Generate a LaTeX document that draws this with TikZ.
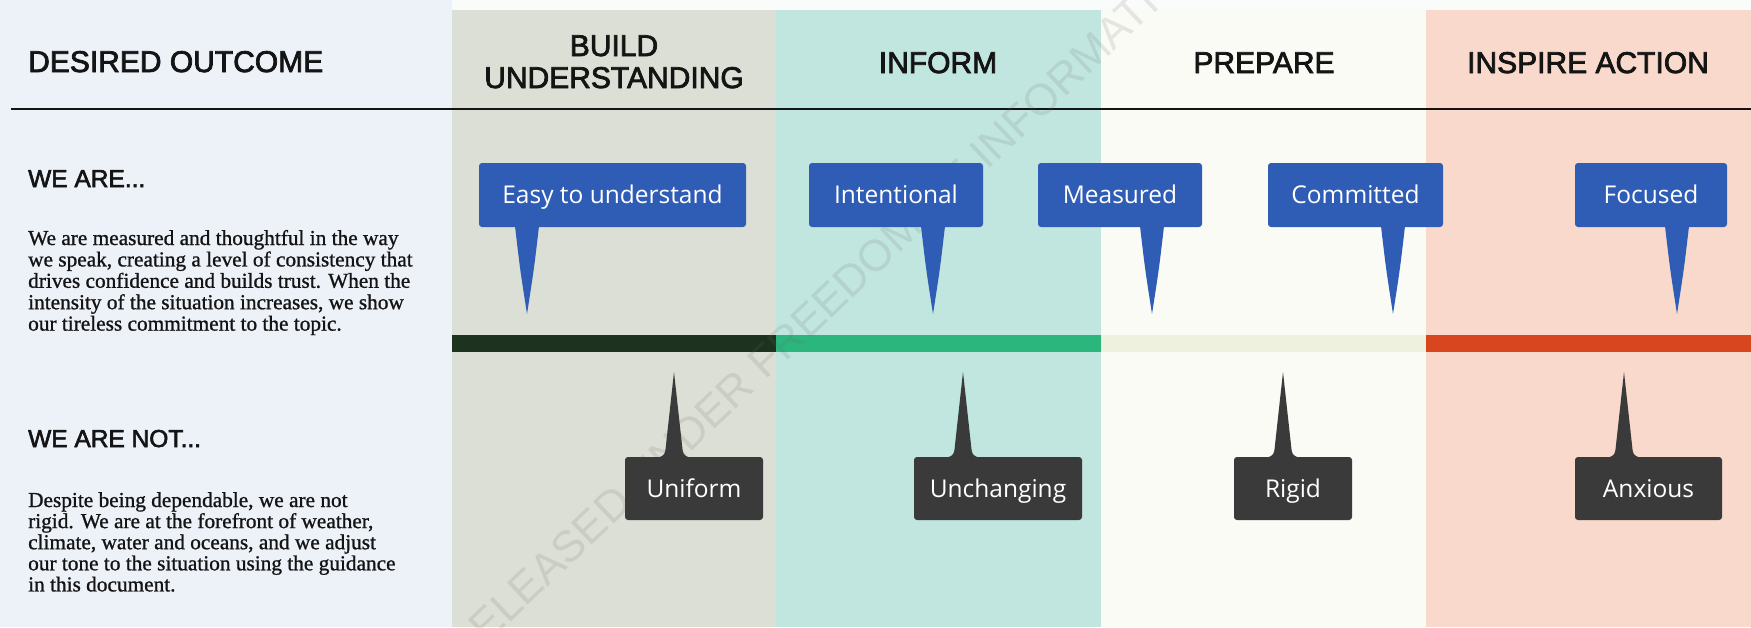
\documentclass[tikz,border=0pt]{standalone}
\usepackage{fontspec}
\setmainfont{Liberation Serif}[FakeBold=1]
\newfontfamily\headfont{Liberation Sans}[FakeBold=2.5]
\newfontfamily\stampfont{Liberation Sans}
\newfontfamily\labelfont{Open Sans}
\usetikzlibrary{calc}

\definecolor{leftbg}{HTML}{EDF1F8}
\definecolor{topbg}{HTML}{FAFBFB}
\definecolor{buildbg}{HTML}{DCDFD5}
\definecolor{informbg}{HTML}{C1E5DF}
\definecolor{preparebg}{HTML}{FAFBF5}
\definecolor{inspirebg}{HTML}{FAD9CD}
\definecolor{barbuild}{HTML}{1E331F}
\definecolor{barinform}{HTML}{2BB67E}
\definecolor{barprepare}{HTML}{EEF1DD}
\definecolor{barinspire}{HTML}{D8461F}
\definecolor{callblue}{HTML}{2F5DB6}
\definecolor{calldark}{HTML}{3A3A3A}
\definecolor{inktext}{HTML}{141414}

% blue "we are" callout: name, centre x, width, tip x, label
\newcommand\wearecallout[5]{%
  \node[bluebox, minimum width=#3pt] (#1) at (#2,195) {#5};
  \coordinate (#1-tip) at (#4,314);
  \fill[callblue] ($(#1.south -| #1-tip)+(-12,-1)$)
    .. controls ($(#1-tip)+(-7,-45)$) .. (#1-tip)
    .. controls ($(#1-tip)+(7,-45)$) .. ($(#1.south -| #1-tip)+(12,-1)$) -- cycle;
}
% dark "we are not" callout: name, centre x, width, tip x, label
\newcommand\wearenotcallout[5]{%
  \node[darkbox, minimum width=#3pt] (#1) at (#2,488.5) {#5};
  \coordinate (#1-tip) at (#4,372);
  \fill[calldark] ($(#1.north -| #1-tip)+(-16,1)$)
    .. controls ($(#1.north -| #1-tip)+(-9,-2)$) .. ($(#1.north -| #1-tip)+(-8,-12)$)
    -- (#1-tip)
    -- ($(#1.north -| #1-tip)+(8,-12)$)
    .. controls ($(#1.north -| #1-tip)+(9,-2)$) .. ($(#1.north -| #1-tip)+(16,1)$) -- cycle;
}

\begin{document}
\begin{tikzpicture}[x=1pt,y=-1pt,
  headtxt/.style={font=\headfont\fontsize{30}{32}\selectfont, text=inktext, inner sep=0pt},
  rowtxt/.style={font=\headfont\fontsize{24.5}{27}\selectfont, text=inktext, inner sep=0pt, anchor=base west},
  bodytxt/.style={font=\fontsize{21.3}{21.5}\selectfont, text=inktext, inner sep=0pt, anchor=base west},
  calloutbase/.style={rounded corners=3pt, inner sep=0pt, minimum height=64pt,
    font=\labelfont\fontsize{24.5}{25}\selectfont, text=white, text height=17.5pt, text depth=0pt},
  bluebox/.style={calloutbase, fill=callblue},
  darkbox/.style={calloutbase, fill=calldark, minimum height=63pt},
  wmark/.style={font=\stampfont\fontsize{44}{44}\selectfont, text=black!60, text opacity=0.14, inner sep=0pt},
]
\useasboundingbox (0,0) rectangle (1751,627);

% column backgrounds
\fill[leftbg] (0,0) rectangle (452,627);
\fill[topbg] (452,0) rectangle (1751,10);
\fill[buildbg] (452,10) rectangle (776,627);
\fill[informbg] (776,10) rectangle (1101,627);
\fill[preparebg] (1101,10) rectangle (1426,627);
\fill[inspirebg] (1426,10) rectangle (1751,627);

% column headings
\node[headtxt, anchor=base west] (hdesired) at (28,72) {DESIRED OUTCOME};
\node[headtxt, anchor=base] (hbuildA) at (614,56) {BUILD};
\node[headtxt, anchor=base] (hbuildB) at (614,88) {UNDERSTANDING};
\node[headtxt, anchor=base] (hinform) at (938,73) {INFORM};
\node[headtxt, anchor=base] (hprepare) at (1264,73) {PREPARE};
\node[headtxt, anchor=base] (hinspire) at (1588,73) {INSPIRE ACTION};

% heading rule
\draw[line width=2.5pt, inktext] (11,109) -- (1751,109);

% tone scale bars
\fill[barbuild] (452,335) rectangle (776,352);
\fill[barinform] (776,335) rectangle (1101,352);
\fill[barprepare] (1101,335) rectangle (1426,352);
\fill[barinspire] (1426,335) rectangle (1751,352);

% row titles and descriptions
\node[rowtxt] (weare) at (28,187) {WE ARE...};
\foreach \ln [count=\i from 0] in {
  {We are measured and thoughtful in the way},
  {we speak, creating a level of consistency that},
  {drives confidence and builds trust. When the},
  {intensity of the situation increases, we show},
  {our tireless commitment to the topic.}}
  \node[bodytxt] (weare-\i) at (28,245+21.4*\i) {\ln};

\node[rowtxt] (wearenot) at (28,447) {WE ARE NOT...};
\foreach \ln [count=\i from 0] in {
  {Despite being dependable, we are not},
  {rigid. We are at the forefront of weather,},
  {climate, water and oceans, and we adjust},
  {our tone to the situation using the guidance},
  {in this document.}}
  \node[bodytxt] (wearenot-\i) at (28,507+21.1*\i) {\ln};

% release stamp
\node[wmark, rotate=43.4] (stamp) at (826,303) {RELEASED UNDER FREEDOM OF INFORMATION};

% callouts above the scale
\wearecallout{easy}{612.5}{267}{527}{Easy to understand}
\wearecallout{intentional}{896}{174}{933}{Intentional}
\wearecallout{measured}{1120}{164}{1152}{Measured}
\wearecallout{committed}{1355.5}{175}{1393}{Committed}
\wearecallout{focused}{1651}{152}{1677}{Focused}

% callouts below the scale
\wearenotcallout{uniform}{694}{138}{674}{Uniform}
\wearenotcallout{unchanging}{998}{168}{963}{Unchanging}
\wearenotcallout{rigid}{1293}{118}{1283}{Rigid}
\wearenotcallout{anxious}{1648.5}{147}{1624}{Anxious}
\end{tikzpicture}
\end{document}
